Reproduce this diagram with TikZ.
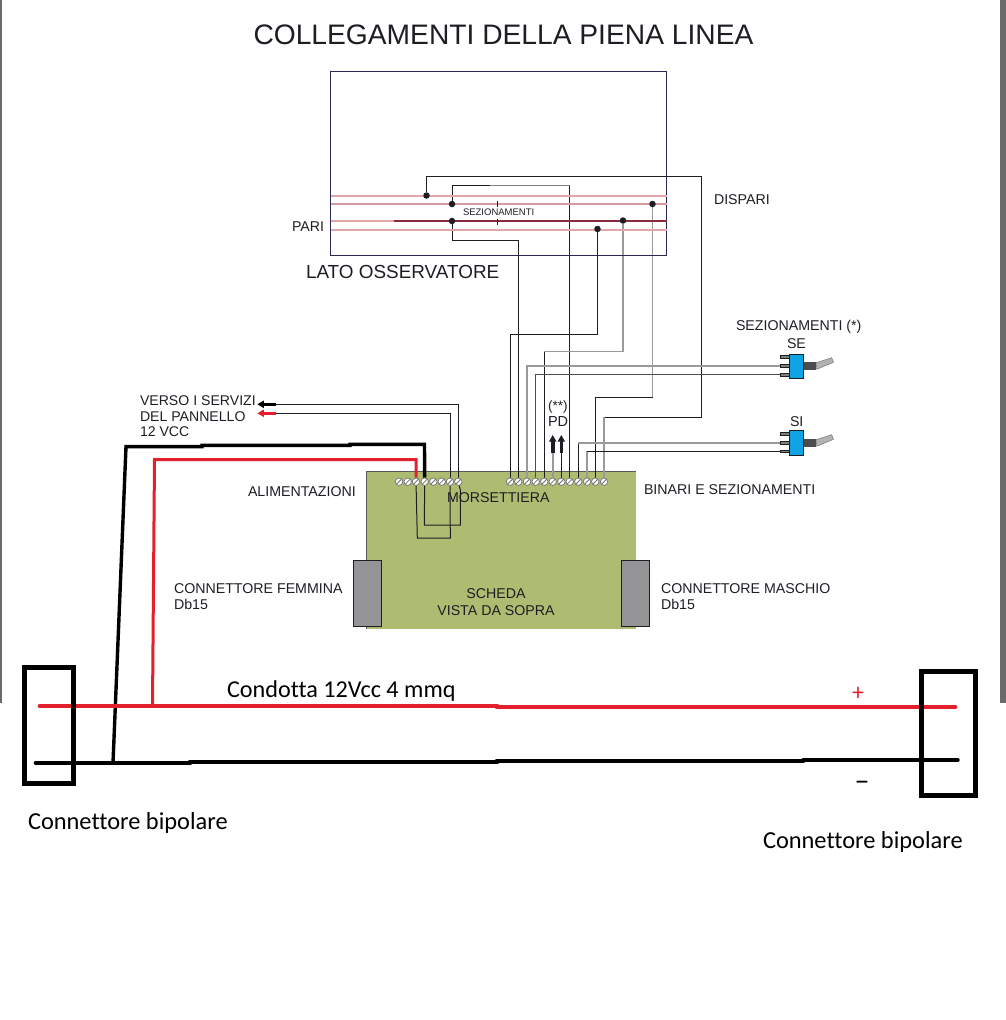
\documentclass[tikz,border=0pt]{standalone}
\usepackage{fontspec}
\setmainfont{Liberation Sans}
\newfontfamily\calib[Ligatures=NoCommon]{Carlito}
\usetikzlibrary{arrows.meta}
\pgfdeclarelayer{boardlayer}
\pgfdeclarelayer{wirelayer}
\pgfsetlayers{boardlayer,wirelayer,main}
\definecolor{ink}{HTML}{1F1D24}
\definecolor{wiregray}{HTML}{9A9A9A}
\definecolor{boardgreen}{HTML}{AEBC72}
\definecolor{conngray}{HTML}{949497}
\definecolor{busred}{HTML}{E3202C}
\definecolor{switchblue}{HTML}{0FA3E6}
\definecolor{framegray}{HTML}{6A6A6A}
\definecolor{trackpale}{HTML}{E3A6A8}
\definecolor{trackmid}{HTML}{D79A9E}
\definecolor{trackdark}{HTML}{8A2A3C}
\definecolor{panelline}{HTML}{2A2A50}
\tikzset{
  lbl/.style={anchor=base west,inner sep=0pt,outer sep=0pt,text=ink,font=\fontsize{#1}{#1}\selectfont},
  clbl/.style={anchor=base west,inner sep=0pt,outer sep=0pt,text=black,font=\calib\fontsize{#1}{#1}\selectfont},
  dot/.style={circle,fill=ink,inner sep=0pt,minimum size=6.5pt},
  screw/.style={circle,draw=black!55,fill=white,line width=.7pt,inner sep=0pt,minimum size=7.5pt,
    path picture={\draw[black!55,line width=.8pt] (path picture bounding box.south west) -- (path picture bounding box.north east);}},
  thin wire/.style={ink,line width=1pt},
  gray wire/.style={wiregray,line width=1.4pt},
  track/.style={line width=1.5pt},
  pin/.style={draw=ink,fill=black!50,line width=.6pt,inner sep=0pt,minimum width=10pt,minimum height=2.6pt},
  swbody/.style={draw=ink,fill=switchblue,line width=.6pt,inner sep=0pt,minimum width=14.4pt},
  swneck/.style={fill=black!70,inner sep=0pt,minimum width=12.3pt,minimum height=8.5pt},
  conn/.style={draw=ink,fill=conngray,line width=.8pt,inner sep=0pt,minimum width=28pt,minimum height=66.7pt},
  thick box/.style={draw=black,line width=4.6pt,fill=none,inner sep=0pt},
  bigarrow/.style={line width=3.6pt,-{Triangle[length=6.5pt,width=7pt]}},
  bus/.style={line width=4.8pt,line cap=round}
}
\begin{document}
\begin{tikzpicture}[x=1pt,y=-1pt]
\useasboundingbox (0,0) rectangle (1006,1020);
% frame remnants
\fill[framegray] (0,0) rectangle (2,703);
\fill[framegray] (1000,0) rectangle (1006,703);

% title
\node[lbl=28.2] (title) at (253.5,44.5) {COLLEGAMENTI DELLA PIENA LINEA};

% observer panel
\node[draw=panelline,line width=1pt,inner sep=0pt,minimum width=336pt,minimum height=184.5pt] (panel) at (498.5,163.7) {};
\node[lbl=14.2] (pari) at (292,231) {PARI};
\node[lbl=14.2] (dispari) at (714,204) {DISPARI};
\node[lbl=18.9] (lato) at (306,278) {LATO OSSERVATORE};
\node[lbl=9.5] (sez) at (463,215.7) {SEZIONAMENTI};

% track lines
\draw[track,draw=trackpale] (330.5,196) -- (666.5,196);
\draw[track,draw=trackmid] (330.5,204) -- (666.5,204);
\draw[track,draw=trackpale] (330.5,221) -- (394,221);
\draw[line width=1.1pt,draw=trackdark] (394,221) -- (666.5,221);
\draw[line width=2pt,draw=trackpale] (330.5,230) -- (666.5,230);
\draw[line width=1.5pt,draw=black!60!red] (497.7,201) -- (497.7,207);
\draw[line width=1.5pt,draw=black!60!red] (497.7,219) -- (497.7,224.5);

% dots
\node[dot] (d1) at (426.5,195.5) {};
\node[dot] (d2) at (452,204) {};
\node[dot] (d3) at (452,221) {};
\node[dot] (d4) at (652.5,204) {};
\node[dot] (d5) at (623,220.5) {};
\node[dot] (d6) at (597.5,229) {};

% board
\begin{pgfonlayer}{boardlayer}
\node[fill=boardgreen,inner sep=0pt,minimum width=269pt,minimum height=157pt] (board) at (501.5,550) {};
\draw[black!65,line width=1pt] (board.south west) -- (board.north west) -- (board.north east);
\end{pgfonlayer}
\node[conn] (cf) at (367.2,593.3) {};
\node[conn] (cm) at (635.7,593.3) {};
\node[lbl=14.2] (alim) at (248,496.7) {ALIMENTAZIONI};
\node[lbl=14.2] (mors) at (447,502.7) {MORSETTIERA};
\node[lbl=14.2] (bin) at (644,494) {BINARI E SEZIONAMENTI};
\node[lbl=14.2] (fem) at (174,593) {CONNETTORE FEMMINA};
\node[lbl=14.2] (femd) at (174,609) {Db15};
\node[lbl=14.2] (mas) at (661,593) {CONNETTORE MASCHIO};
\node[lbl=14.2] (masd) at (661,609) {Db15};
\node[lbl=14.2,anchor=base] (sch) at (496,598) {SCHEDA};
\node[lbl=14.2,anchor=base] (vis) at (496,615) {VISTA DA SOPRA};
\node[lbl=14.1] (v1) at (140,405) {VERSO I SERVIZI};
\node[lbl=14.1] (v2) at (140,421) {DEL PANNELLO};
\node[lbl=14.1] (v3) at (140,436.7) {12 VCC};
\node[lbl=13.5] (pdn) at (548,410.7) {(**)};
\node[lbl=14.5] (pd) at (548,426.7) {PD};
\node[lbl=14.2] (sezt) at (736,330) {SEZIONAMENTI (*)};
\node[lbl=14.2] (se) at (787,348) {SE};
\node[lbl=14.2] (si) at (790,426) {SI};

% terminals
\foreach \n/\x in {1/399,2/407.7,3/416,4/424.7,5/433.3,6/441.7,7/450,8/458.3}
  \node[screw] (tl\n) at (\x,481.7) {};
\foreach \n/\x in {1/510,2/518.3,3/527,4/535.7,5/544.3,6/552.7,7/561.3,8/569.7,9/578.3,10/587,11/595.3,12/604}
  \node[screw] (tr\n) at (\x,481.7) {};

% switches
\foreach \nm/\a/\b/\c/\ytop/\yh/\yn/\lv in {se/357/366/374.7/366.4/24.7/366/0,si/434/442.7/451.3/442.7/25.3/443/77}{
  \node[pin] (\nm p1) at (785,\a) {};
  \node[pin] (\nm p2) at (785,\b) {};
  \node[pin] (\nm p3) at (785,\c) {};
  \node[swneck] (\nm n) at (809.9,\yn) {};
  \node[swbody,minimum height=\yh pt] (\nm b) at (796.5,\ytop) {};
  \fill[black!30,draw=black!60,line width=.4pt] (816,362.7+\lv) -- (831.7,357.7+\lv) -- (833.5,362.3+\lv) -- (816.7,369.3+\lv) -- cycle;
}

% wiring
\begin{pgfonlayer}{wirelayer}
\coordinate (l1) at (510,334);
\coordinate (l2) at (518.3,240.5);
\coordinate (l5) at (544.3,351.7);
\coordinate (l8) at (569.7,185.5);
\coordinate (l11) at (595.3,397.3);
\coordinate (l12) at (604,417.3);
\coordinate (h7) at (652.5,397.3);
\coordinate (h8) at (701.3,417.3);
\coordinate (top1) at (701.3,176.5);
\coordinate (top2) at (426.5,176.5);
% panel -> terminal block
\draw[thin wire] (d1) -- (top2) -- (top1) -- (h8) -- (l12);
\draw[gray wire] (l12) -- (tr12);
\draw[thin wire] (d2) -- (452,185.5) -- (490,185.5);
\draw[gray wire,line width=1.2pt,black!50] (490,185.5) -- (l8);
\draw[thin wire] (l8) -- (tr8);
\draw[thin wire] (d3) -- (452,240.5) -- (l2) -- (tr2);
\draw[thin wire] (d6) -- (597.5,334) -- (l1) -- (tr1);
\draw[gray wire] (d5) -- (623,351.7) -- (l5);
\draw[thin wire] (l5) -- (tr5);
\draw[gray wire] (d4) -- (h7);
\draw[thin wire] (h7) -- (l11) -- (tr11);
% switch connections
\draw[gray wire] (tr3) -- (527,366) -- (sep2);
\draw[gray wire,black!50!wiregray] (tr4) -- (535.7,374.7) -- (sep3);
\draw[thin wire] (tr9) -- (578.3,442.7);
\draw[gray wire,line width=1.8pt] (578.3,442.7) -- (sip2);
\draw[gray wire] (tr10) -- (587,451.3);
\draw[thin wire] (587,451.3) -- (sip3);
% services
\coordinate (vb) at (276,404.3);
\coordinate (vr) at (276,413.3);
\draw[thin wire] (tl8) -- (458.3,404.3) -- (vb);
\draw[thin wire] (tl7) -- (450,413.3) -- (vr);
% jumpers
\draw[thin wire] (tl3) -- (417.3,538) -- (450.3,538) -- (tl7);
\draw[thin wire] (tl4) -- (424.3,525) -- (460.3,525) -- (460.3,490) -- (tl8);
% supply branches
\coordinate (busr0) at (40,706);
\coordinate (busr1) at (497,706);
\coordinate (busr2) at (497,707);
\coordinate (busr3) at (955,707);
\coordinate (busk0) at (36,763);
\coordinate (busk1) at (190,763);
\coordinate (busk2) at (190,762);
\coordinate (busk3) at (497,762);
\coordinate (busk4) at (497,761);
\coordinate (busk5) at (803,761);
\coordinate (busk6) at (803,760);
\coordinate (busk7) at (958,760);
\coordinate (tapr) at (152.5,706);
\coordinate (tapk) at (113,763);
\draw[busred,line width=3pt] (tl3) -- (416,459.5) -- (154.5,459.5) -- (tapr);
\draw[black,line width=3.4pt,line join=miter] (tl4) -- (424.5,444.3) -- (350,444.3) -- (350,445.3) -- (202,445.3) -- (202,446.6) -- (126,446.6) -- (tapk);
\end{pgfonlayer}
% arrows
\coordinate (vbt) at (257.3,404.3);
\coordinate (vrt) at (257.3,413.3);
\draw[bigarrow,black] (vb) -- (vbt);
\draw[bigarrow,busred] (vr) -- (vrt);
\coordinate (a1b) at (552.7,452.5);
\coordinate (a1t) at (552.7,435);
\coordinate (a2b) at (561.3,452.5);
\coordinate (a2t) at (561.3,435);
\begin{pgfonlayer}{wirelayer}
\draw[gray wire,line width=1.8pt] (tr6) -- (a1b);
\draw[thin wire] (tr7) -- (a2b);
\end{pgfonlayer}
\draw[bigarrow,ink] (a1b) -- (a1t);
\draw[bigarrow,ink] (a2b) -- (a2t);

% power bus
\node[clbl=24.2] (cond) at (227,697) {Condotta 12Vcc 4 mmq};
\node[clbl=24,text=busred] (plus) at (852,700) {+};
\node[clbl=30] (minus) at (854.5,790) {–};
\node[clbl=24.4] (cb1) at (28,829) {Connettore bipolare};
\node[clbl=24.4] (cb2) at (763,848) {Connettore bipolare};
\draw[bus,busred] (busr0) -- (busr1);
\draw[bus,busred] (busr2) -- (busr3);
\draw[bus,black] (busk0) -- (busk1);
\draw[bus,black] (busk2) -- (busk3);
\draw[bus,black] (busk4) -- (busk5);
\draw[line width=3.4pt,line cap=round,black] (busk6) -- (busk7);
\node[thick box,minimum width=49.4pt,minimum height=116.1pt] (cl) at (49,725.3) {};
\node[thick box,minimum width=54.4pt,minimum height=124.4pt] (cr) at (948.5,733.5) {};
\end{tikzpicture}
\end{document}
